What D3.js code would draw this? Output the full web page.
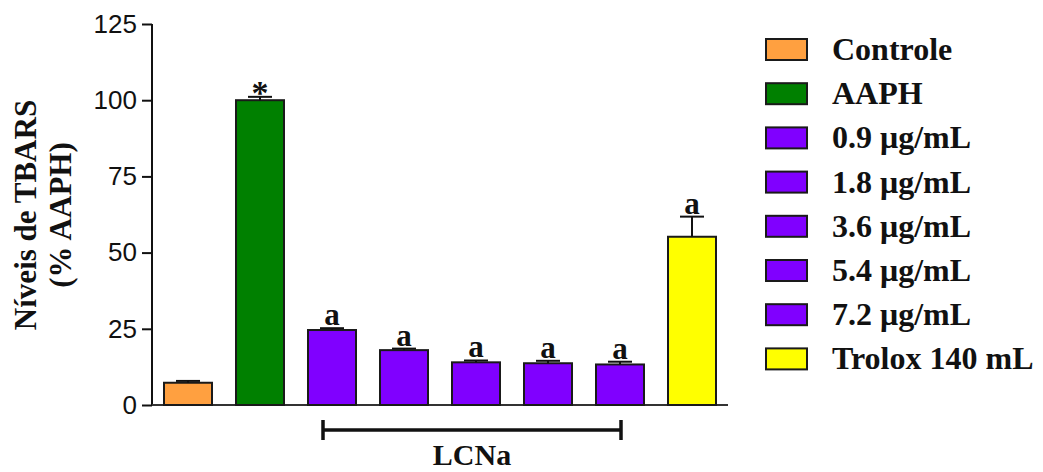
<!DOCTYPE html>
<html>
<head>
<meta charset="utf-8">
<script src="https://cdn.jsdelivr.net/npm/d3@7"></script>
<style>
  html, body { margin: 0; padding: 0; background: #fff; }
  svg { display: block; }
</style>
</head>
<body>
<svg id="chart" width="1043" height="472"></svg>
<script>
// Groups, means and upper error (mean + SEM)
const groups = ["Controle", "AAPH", "0.9 μg/mL", "1.8 μg/mL", "3.6 μg/mL", "5.4 μg/mL", "7.2 μg/mL", "Trolox 140 mL"];
const means  = [7.3, 100, 24.6, 18.0, 14.0, 13.7, 13.3, 55.2];
const upper  = [7.9, 101.1, 25.2, 18.5, 14.6, 14.5, 14.2, 61.8];
const marks  = ["", "*", "a", "a", "a", "a", "a", "a"];
const colors = ["#FFA040", "#008000", "#8000FF", "#8000FF", "#8000FF", "#8000FF", "#8000FF", "#FFFF00"];
const yTicks = [0, 25, 50, 75, 100, 125];
const bracketGroups = ["0.9 μg/mL", "7.2 μg/mL"];
const bracketLabel = "LCNa";

const svg = d3.select("#chart");
const serif = "'Liberation Serif', 'Times New Roman', serif";
const sans = "'Liberation Sans', Arial, sans-serif";

const y = d3.scaleLinear().domain([0, 125]).range([405, 24]);
const x = d3.scaleBand().domain(groups).range([152, 728]).paddingInner(1/3).paddingOuter(1/6);

// Y axis
const yAxis = d3.axisLeft(y).tickValues(yTicks).tickSize(10).tickPadding(5);
const gy = svg.append("g").attr("transform", "translate(152,0)").call(yAxis);
gy.select(".domain").attr("stroke", "#111").attr("stroke-width", 2).attr("d", `M0,${y(125)}V${y(0)}`);
gy.selectAll(".tick line").attr("stroke", "#111").attr("stroke-width", 2);
gy.selectAll(".tick text").attr("font-family", sans).attr("font-size", 26).attr("fill", "#111");

// Baseline
svg.append("line")
  .attr("x1", 152).attr("x2", 728)
  .attr("y1", y(0)).attr("y2", y(0))
  .attr("stroke", "#333").attr("stroke-width", 2);

// Bars
svg.selectAll("rect.bar").data(groups).join("rect")
  .attr("class", "bar")
  .attr("x", d => x(d))
  .attr("y", (d, i) => y(means[i]))
  .attr("width", x.bandwidth())
  .attr("height", (d, i) => y(0) - y(means[i]))
  .attr("fill", (d, i) => colors[i])
  .attr("stroke", "#1a1a1a").attr("stroke-width", 2);

// Error bars (upper only)
const err = svg.append("g").attr("stroke", "#111").attr("stroke-width", 2);
groups.forEach((g, i) => {
  const cx = x(g) + x.bandwidth() / 2;
  err.append("line").attr("x1", cx).attr("x2", cx).attr("y1", y(means[i])).attr("y2", y(upper[i]));
  err.append("line").attr("x1", cx - 12).attr("x2", cx + 12).attr("y1", y(upper[i])).attr("y2", y(upper[i]));
});

// Significance marks
svg.selectAll("text.mark").data(groups).join("text")
  .attr("class", "mark")
  .attr("x", d => x(d) + x.bandwidth() / 2)
  .attr("y", (d, i) => y(upper[i]) + (marks[i] === "*" ? 7 : -3))
  .attr("text-anchor", "middle")
  .attr("font-family", serif).attr("font-weight", "bold")
  .attr("font-size", (d, i) => marks[i] === "*" ? 34 : 31)
  .attr("fill", "#111")
  .text((d, i) => marks[i]);

// Y axis title
const title = svg.append("text")
  .attr("transform", "translate(0,215) rotate(-90)")
  .attr("text-anchor", "middle")
  .attr("font-family", serif).attr("font-weight", "bold")
  .attr("font-size", 31).attr("fill", "#111");
title.append("tspan").attr("x", 0).attr("y", 36).text("Níveis de TBARS");
title.append("tspan").attr("x", 0).attr("y", 71).text("(% AAPH)");

// Bracket for the LCNa concentrations
const bx1 = x(bracketGroups[0]) + 15;
const bx2 = x(bracketGroups[1]) + 25;
const br = svg.append("g").attr("stroke", "#111").attr("stroke-width", 3.5);
br.append("line").attr("x1", bx1).attr("x2", bx2).attr("y1", 430).attr("y2", 430);
br.append("line").attr("x1", bx1).attr("x2", bx1).attr("y1", 420).attr("y2", 440);
br.append("line").attr("x1", bx2).attr("x2", bx2).attr("y1", 420).attr("y2", 440);
svg.append("text")
  .attr("x", (bx1 + bx2) / 2).attr("y", 465)
  .attr("text-anchor", "middle")
  .attr("font-family", serif).attr("font-weight", "bold")
  .attr("font-size", 30).attr("fill", "#111")
  .text(bracketLabel);

// Legend
const legend = svg.append("g").attr("transform", "translate(766,39)");
const row = 44.2;
legend.selectAll("rect").data(groups).join("rect")
  .attr("x", 0).attr("y", (d, i) => i * row)
  .attr("width", 41).attr("height", 21)
  .attr("fill", (d, i) => colors[i])
  .attr("stroke", "#1a1a1a").attr("stroke-width", 2);
legend.selectAll("text").data(groups).join("text")
  .attr("x", 66).attr("y", (d, i) => i * row + 21)
  .attr("font-family", serif).attr("font-weight", "bold")
  .attr("font-size", 32).attr("fill", "#111")
  .text(d => d);
</script>
</body>
</html>
